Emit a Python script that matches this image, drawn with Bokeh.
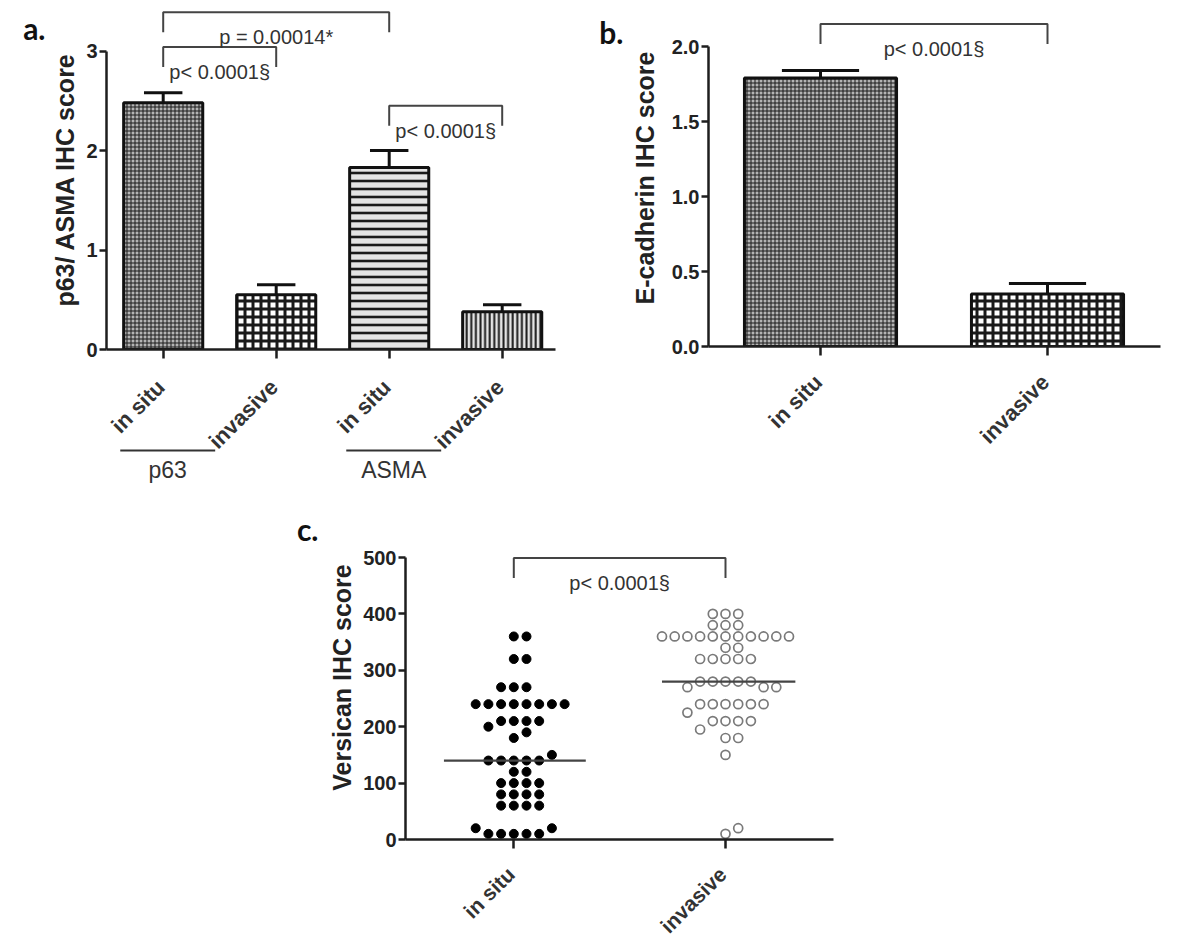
import numpy as np
from bokeh.plotting import figure
from bokeh.models import (ColumnDataSource, FixedTicker, Label, LinearAxis,
                          Spacer, NumeralTickFormatter, Range1d)
from bokeh.layouts import row, column
from bokeh.embed import file_html
from bokeh.resources import INLINE
from bokeh.core.properties import value

# ---------------- data ----------------
a_categories = ["in situ", "invasive", "in situ", "invasive"]
a_groups = ["p63", "p63", "ASMA", "ASMA"]
a_means = [2.48, 0.55, 1.83, 0.38]
a_sem = [0.10, 0.10, 0.17, 0.07]
a_y_ticks = [0, 1, 2, 3]
a_y_label = "p63/ ASMA IHC score"
a_comparisons = [(1, 3, "p = 0.00014*", 3.39),
                 (1, 2, "p< 0.0001§", 3.04),
                 (3, 4, "p< 0.0001§", 2.45)]

b_categories = ["in situ", "invasive"]
b_means = [1.79, 0.35]
b_sem = [0.05, 0.07]
b_y_ticks = [0.0, 0.5, 1.0, 1.5, 2.0]
b_y_label = "E-cadherin IHC score"
b_comparisons = [(1, 2, "p< 0.0001§", 2.15)]

c_categories = ["in situ", "invasive"]
c_in_situ = [360, 360, 320, 320, 270, 270, 270,
             240, 240, 240, 240, 240, 240, 240, 240,
             210, 210, 210, 210, 200, 190, 180, 150,
             140, 140, 140, 140, 140, 120, 120,
             100, 100, 100, 100, 80, 80, 80, 80,
             60, 60, 60, 60, 20, 20, 10, 10, 10, 10, 10]
c_invasive = [400, 400, 400, 380, 380, 380,
              360, 360, 360, 360, 360, 360, 360, 360, 360, 360, 360,
              340, 340, 320, 320, 320, 320, 320,
              280, 280, 280, 280, 280, 270, 270, 270,
              240, 240, 240, 240, 240, 240, 225,
              210, 210, 210, 210, 195, 180, 180, 150, 20, 10]
c_y_ticks = [0, 100, 200, 300, 400, 500]
c_y_label = "Versican IHC score"
c_comparisons = [(1, 2, "p< 0.0001§", 499)]

panel_letters = ["a.", "b.", "c."]

# ---------------- styles ----------------
AX = "#1e1e1e"
TXT = "#333333"
FONT = "Liberation Sans"


def base_fig(width, height, xr, yr, left, right, top, bottom):
    p = figure(width=width, height=height, output_backend="svg", toolbar_location=None,
               x_range=xr, y_range=yr, min_border_left=left, min_border_right=right,
               min_border_top=top, min_border_bottom=bottom)
    p.outline_line_color = None
    p.grid.visible = False
    p.background_fill_color = "white"
    p.border_fill_color = "white"
    return p


def style_axes(p, y_ticks, y_label, n_cat, y_fmt=None, label_standoff=4):
    for ax in (p.xaxis[0], p.yaxis[0]):
        ax.axis_line_color = AX
        ax.axis_line_width = 2.5
        ax.major_tick_line_color = AX
        ax.major_tick_line_width = 2.5
        ax.minor_tick_line_color = None
        ax.major_tick_in = 0
        ax.major_label_text_font = FONT
        ax.major_label_text_font_style = "bold"
        ax.major_label_text_color = "#222222"
    ya = p.yaxis[0]
    ya.ticker = FixedTicker(ticks=y_ticks)
    ya.bounds = (y_ticks[0], y_ticks[-1])
    ya.major_tick_out = 7
    ya.major_label_standoff = 2
    ya.major_label_text_font_size = "20px"
    ya.axis_label = y_label
    ya.axis_label_text_font = FONT
    ya.axis_label_text_font_style = "bold"
    ya.axis_label_text_font_size = "25px"
    ya.axis_label_text_color = "#222222"
    ya.axis_label_standoff = label_standoff
    if y_fmt:
        ya.formatter = NumeralTickFormatter(format=y_fmt)
    xa = p.xaxis[0]
    pos = list(range(1, n_cat + 1))
    xa.ticker = FixedTicker(ticks=pos)
    xa.major_label_overrides = {k: "" for k in pos}
    xa.major_label_text_font_size = "0px"
    xa.major_label_standoff = 0
    xa.major_tick_out = 9


def add_letter(p, y, text, standoff):
    ax = LinearAxis(ticker=FixedTicker(ticks=[y]), major_label_overrides={y: text},
                    axis_line_color=None, major_tick_line_color=None,
                    minor_tick_line_color=None, major_tick_out=0, major_tick_in=0,
                    major_label_standoff=standoff, major_label_text_font="Lato",
                    major_label_text_font_style="bold", major_label_text_font_size="30px",
                    major_label_text_color="#111111")
    p.add_layout(ax, "left")


def add_brackets(p, comps, ppu):
    leg = 20.0 / ppu
    xs, ys = [], []
    for i, j, txt, top in comps:
        xs.append([i, i, j, j])
        ys.append([top - leg, top, top, top - leg])
        p.add_layout(Label(x=(i + j) / 2, y=top - 25.0 / ppu, text=txt,
                           text_align="center", text_baseline="middle",
                           text_font=FONT, text_font_size="20px", text_color=TXT))
    p.multi_line(xs, ys, line_color="#444444", line_width=2)


def add_bars(p, means, sem, width, patterns, fills, hscales, hweights):
    x = list(range(1, len(means) + 1))
    src = ColumnDataSource(dict(x=x, top=means, pat=patterns, fill=fills,
                                hs=hscales, hw=hweights))
    p.vbar(x="x", top="top", width=width, bottom=0, source=src,
           fill_color="fill", line_color="#111111", line_width=3,
           hatch_pattern="pat", hatch_color="#1a1a1a", hatch_scale="hs",
           hatch_weight="hw")
    hi = [m + s for m, s in zip(means, sem)]
    p.segment(x0=x, y0=means, x1=x, y1=hi, line_color="#111111", line_width=3)
    p.segment(x0=[v - 0.17 for v in x], y0=hi, x1=[v + 0.17 for v in x], y1=hi,
              line_color="#111111", line_width=3)


def strip(main, height):
    """Figure under a panel (same x scale) that carries the rotated category names."""
    p = figure(width=main.width, height=height, output_backend="svg", toolbar_location=None,
               x_range=main.x_range, y_range=Range1d(0, height),
               min_border_left=main.min_border_left, min_border_right=main.min_border_right,
               min_border_top=0, min_border_bottom=0,
               x_axis_location=None, y_axis_location=None)
    p.outline_line_color = None
    p.grid.visible = False
    p.background_fill_color = "white"
    p.border_fill_color = "white"
    return p


def category_labels(s, cats, y, size, ppu_x):
    x = [k + 1 - 11.0 / ppu_x for k in range(len(cats))]
    s.text(x=x, y=[y] * len(cats), text=cats, angle=np.pi / 4,
           text_align="right", text_baseline="top", text_font=value(FONT),
           text_font_style="bold", text_font_size=size, text_color=TXT)


# ---------------- panel a ----------------
A_PPU_Y, A_PPU_X = 99.5, 113.0
fa = base_fig(580, 352, Range1d(1 - 56.7 / A_PPU_X, 1 + 392.3 / A_PPU_X),
              Range1d(0, 340 / A_PPU_Y), 98, 33, 1, 11)
style_axes(fa, a_y_ticks, a_y_label, len(a_categories))
add_bars(fa, a_means, a_sem, 0.70,
         ["cross", "cross", "horizontal_line", "vertical_line"],
         ["#b4b4b4", "#ffffff", "#e4e4e4", "#e4e4e4"],
         [4, 8, 8, 4.6], [1, 3, 2.6, 2.0])
add_brackets(fa, a_comparisons, A_PPU_Y)
add_letter(fa, 3.23, panel_letters[0], 3)

SA_H = 143                       # strip spans page y 360..503
sa = strip(fa, SA_H)
category_labels(sa, a_categories, SA_H - 14, "22px", A_PPU_X)
g_names = list(dict.fromkeys(a_groups))
g_left = [min(k + 1 for k, g in enumerate(a_groups) if g == n) - 0.38 for n in g_names]
g_right = [max(k + 1 for k, g in enumerate(a_groups) if g == n) - 0.54 for n in g_names]
sa.segment(x0=g_left, y0=[SA_H - 90] * 2, x1=g_right, y1=[SA_H - 90] * 2,
           line_color="#333333", line_width=2)
sa.text(x=[(l + r) / 2 for l, r in zip(g_left, g_right)], y=[SA_H - 109] * 2, text=g_names,
        text_align="center", text_baseline="middle", text_font=value(FONT),
        text_font_size="23px", text_color=TXT)

# ---------------- panel b ----------------
B_PPU_Y, B_PPU_X = 150.0, 227.0
fb = base_fig(602, 349, Range1d(1 - 112 / B_PPU_X, 2 + 113 / B_PPU_X),
              Range1d(0, 337 / B_PPU_Y), 120, 30, 1, 11)
style_axes(fb, b_y_ticks, b_y_label, len(b_categories), y_fmt="0.0", label_standoff=10)
add_bars(fb, b_means, b_sem, 0.67, ["cross", "cross"], ["#b4b4b4", "#ffffff"],
         [4, 8], [1, 3])
add_brackets(fb, b_comparisons, B_PPU_Y)
add_letter(fb, 2.10, panel_letters[1], 4)

SB_H = 146                       # strip spans page y 357..503
sb = strip(fb, SB_H)
category_labels(sb, b_categories, SB_H - 12, "22px", B_PPU_X)

# ---------------- panel c ----------------
C_PPU_Y, C_PPU_X = 0.564, 211.7
fc = base_fig(552, 347, Range1d(1 - 108.3 / C_PPU_X, 2 + 108 / C_PPU_X),
              Range1d(0, 324 / C_PPU_Y), 117, 7, 12, 11)
style_axes(fc, c_y_ticks, c_y_label, len(c_categories))


def swarm(vals, spacing_px=12.7, min_px=11.0):
    vals = np.asarray(vals, dtype=float)
    counts = {v: int(np.sum(vals == v)) for v in vals}
    order = sorted(range(len(vals)), key=lambda k: (-counts[vals[k]], vals[k]))
    cands = [0]
    for m in range(1, 40):
        cands += [m, -m]
    placed = []
    offs = np.zeros(len(vals))
    for k in order:
        y = vals[k] * C_PPU_Y
        for c in cands:
            dx = c * spacing_px
            if all((dx - px) ** 2 + (y - py) ** 2 >= min_px ** 2 for px, py in placed):
                break
        placed.append((dx, y))
        offs[k] = dx / C_PPU_X
    return offs


xs_in = 1 + swarm(c_in_situ)
xs_inv = 2 + swarm(c_invasive)
fc.scatter(xs_in, c_in_situ, marker="circle", size=9, fill_color="#000000", line_color="#000000")
fc.scatter(xs_inv, c_invasive, marker="circle", size=9, fill_color=None,
           line_color="#7a7a7a", line_width=1.7)
meds = [float(np.median(c_in_situ)), float(np.median(c_invasive))]
fc.segment(x0=[1 - 0.33, 2 - 0.30], y0=meds, x1=[1 + 0.34, 2 + 0.33], y1=meds,
           line_color="#444444", line_width=2.2)
add_brackets(fc, c_comparisons, C_PPU_Y)
add_letter(fc, 551, panel_letters[2], 7)

SC_H = 98                        # strip spans page y 850..948
sc = strip(fc, SC_H)
category_labels(sc, c_categories, SC_H - 12, "21px", C_PPU_X)

top = row(column(fa, sa), column(fb, sb))
bottom = row(Spacer(width=280, height=10), column(fc, sc))
page = column(Spacer(width=10, height=8),
              row(Spacer(width=8, height=10), column(top, bottom)))
open("out.html", "w").write(file_html(page, INLINE))
